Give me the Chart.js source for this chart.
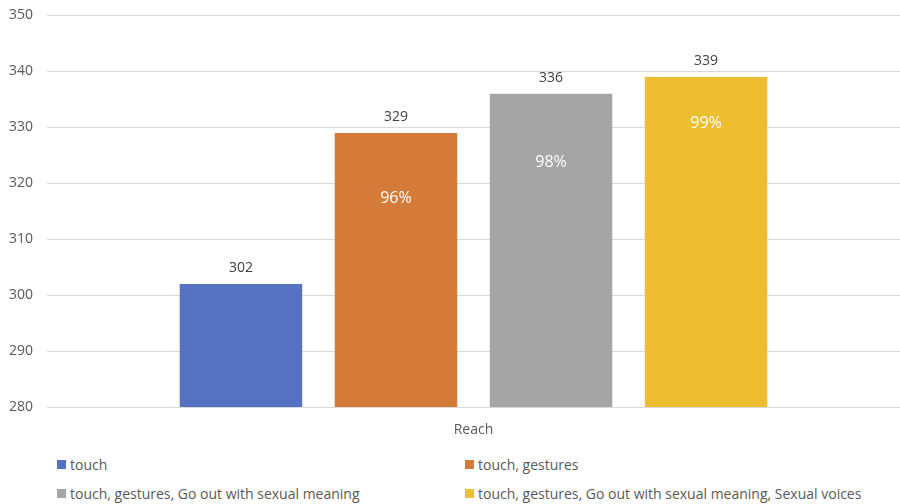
<!DOCTYPE html>
<html>
<head>
<meta charset="utf-8">
<script src="https://cdn.jsdelivr.net/npm/chart.js@4.4.1/dist/chart.umd.min.js"></script>
<style>
    body { margin: 0; background: #fff; font-family: "Open Sans", sans-serif; overflow: hidden; }
    #wrap { position: relative; width: 900px; height: 504px; overflow: hidden; }
    #chart-box { position: absolute; left: 0; top: -7px; width: 900px; height: 447px; }
    #legend {
        position: absolute; left: 57px; top: 455px; width: 843px;
        display: grid; grid-template-columns: 408px 435px; row-gap: 11px;
        font-size: 14px; color: #595959;
    }
    #legend .item { display: flex; align-items: center; height: 18px; white-space: nowrap; }
    #legend .box { width: 9px; height: 9px; margin-right: 4px; }
</style>
</head>
<body>
<div id="wrap">
    <div id="chart-box"><canvas id="reach-chart"></canvas></div>
    <div id="legend"></div>
</div>
<script>
// Chart data
const categories = ['Reach'];
const seriesNames = [
    'touch',
    'touch, gestures',
    'touch, gestures, Go out with sexual meaning',
    'touch, gestures, Go out with sexual meaning, Sexual voices'
];
const seriesValues = [302, 329, 336, 339];
const seriesShares = [null, '96%', '98%', '99%'];
const shareLabelAt = [null, 317.3, 323.8, 330.7];
const seriesColors = ['#5571c1', '#d57b39', '#a5a5a5', '#edbe2f'];
const yTicks = [280, 290, 300, 310, 320, 330, 340, 350];

const textColor = '#595959';
const gridColor = '#d9d9d9';

// Draws the value above each bar and the share inside it
const barLabels = {
    id: 'barLabels',
    afterDatasetsDraw(chart) {
        const ctx = chart.ctx;
        const yScale = chart.scales.y;
        ctx.save();
        ctx.textAlign = 'center';
        ctx.textBaseline = 'middle';
        chart.data.datasets.forEach((ds, i) => {
            const bar = chart.getDatasetMeta(i).data[0];
            ctx.fillStyle = '#404040';
            ctx.font = '14px "Open Sans", sans-serif';
            ctx.fillText(String(ds.data[0]), bar.x, bar.y - 16);
            if (seriesShares[i]) {
                ctx.fillStyle = '#ffffff';
                ctx.font = '16px "Open Sans", sans-serif';
                ctx.fillText(seriesShares[i], bar.x, yScale.getPixelForValue(shareLabelAt[i]));
            }
        });
        ctx.restore();
    }
};

const datasets = seriesNames.map((name, i) => ({
    label: name,
    data: [seriesValues[i]],
    backgroundColor: seriesColors[i],
    borderWidth: 0,
    categoryPercentage: 0.727,
    barPercentage: 0.79
}));

new Chart(document.getElementById('reach-chart').getContext('2d'), {
    type: 'bar',
    data: { labels: categories, datasets: datasets },
    options: {
        responsive: true,
        maintainAspectRatio: false,
        animation: false,
        layout: { padding: { top: 8, right: 0, left: 0, bottom: 0 } },
        plugins: {
            legend: { display: false },
            tooltip: { enabled: false }
        },
        scales: {
            x: {
                grid: { display: false },
                border: { color: gridColor, width: 1 },
                ticks: {
                    color: textColor,
                    font: { family: '"Open Sans", sans-serif', size: 14 },
                    padding: 7
                },
                afterFit(scale) { scale.height = 33; }
            },
            y: {
                min: 280,
                max: 350,
                afterBuildTicks(scale) { scale.ticks = yTicks.map(v => ({ value: v })); },
                grid: { color: gridColor, lineWidth: 1, drawTicks: false },
                border: { display: false },
                ticks: {
                    color: textColor,
                    font: { family: '"Open Sans", sans-serif', size: 14 },
                    padding: 14
                },
                afterFit(scale) { scale.width = 47; }
            }
        }
    },
    plugins: [barLabels]
});

// HTML legend in two columns
const legendEl = document.getElementById('legend');
seriesNames.forEach((name, i) => {
    const item = document.createElement('div');
    item.className = 'item';
    item.innerHTML = '<span class="box" style="background:' + seriesColors[i] + '"></span>' + name;
    legendEl.appendChild(item);
});
</script>
</body>
</html>
